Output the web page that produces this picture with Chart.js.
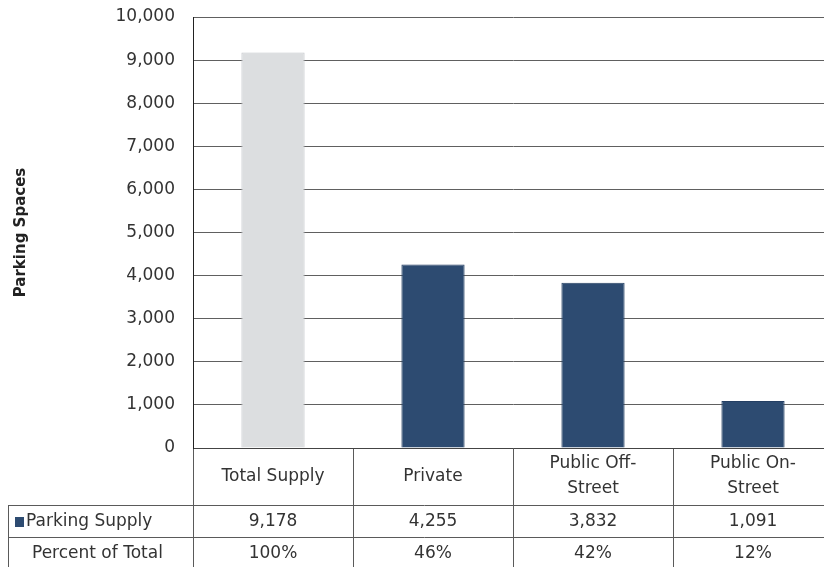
<!DOCTYPE html>
<html>
<head>
<meta charset="utf-8">
<script src="https://cdn.jsdelivr.net/npm/chart.js@4/dist/chart.umd.min.js"></script>
<style>
  html, body { margin: 0; padding: 0; background: #fff; overflow: hidden; }
  #wrap { width: 824px; height: 567px; overflow: hidden; position: relative; }
  canvas { display: block; }
</style>
</head>
<body>
<div id="wrap"><canvas id="c" width="840" height="575"></canvas></div>
<script>
// ---- data ----
const categories = [["Total Supply"], ["Private"], ["Public Off-", "Street"], ["Public On-", "Street"]];
const parkingSupply = [9178, 4255, 3832, 1091];
const percentOfTotal = ["100%", "46%", "42%", "12%"];
const rowLabels = ["Parking Supply", "Percent of Total"];
const yAxisTitle = "Parking Spaces";
const yMin = 0, yMax = 10000, yStep = 1000;

// ---- styles ----
const FONT = "'DejaVu Sans', sans-serif";
const TEXT = "#333333";
const NAVY = "#2d4b71";
const GREY = "#dcdee0";
const barFill = [GREY, NAVY, NAVY, NAVY];
const barEdge = ["#c2c5c9", "#243f63", "#243f63", "#243f63"];
const headerH = 57, rowH = 32, tableLeftOffset = 185;

const tablePlugin = {
  id: 'dataTable',
  afterDraw(chart) {
    const ctx = chart.ctx;
    const a = chart.chartArea;
    const x = chart.scales.x;
    const n = categories.length;
    const colW = (a.right - a.left) / n;
    const tLeft = a.left - tableLeftOffset;
    const hTop = a.bottom, hBot = a.bottom + headerH;
    const r1Bot = hBot + rowH, r2Bot = r1Bot + rowH;
    ctx.save();
    ctx.strokeStyle = "#5a5a5a";
    ctx.lineWidth = 1;
    [hBot, r1Bot, r2Bot].forEach(yy => {
      ctx.beginPath();
      ctx.moveTo(tLeft, Math.round(yy) + 0.5);
      ctx.lineTo(a.right + 10, Math.round(yy) + 0.5);
      ctx.stroke();
    });
    const vx = [tLeft];
    for (let i = 0; i <= n; i++) vx.push(a.left + i * colW);
    vx.forEach(xx => {
      ctx.beginPath();
      ctx.moveTo(Math.round(xx) + 0.5, hBot);
      ctx.lineTo(Math.round(xx) + 0.5, r2Bot);
      ctx.stroke();
    });
    ctx.fillStyle = TEXT;
    ctx.font = "17px " + FONT;
    ctx.textAlign = "center";
    ctx.textBaseline = "middle";
    const lh = 25;
    const hMid = (hTop + hBot) / 2;
    categories.forEach((lab, i) => {
      const cx = x.getPixelForValue(i);
      const lines = Array.isArray(lab) ? lab : [lab];
      const start = hMid - (lines.length - 1) * lh / 2;
      lines.forEach((ln, j) => ctx.fillText(ln, cx, start + j * lh));
    });
    const r1Mid = (hBot + r1Bot) / 2, r2Mid = (r1Bot + r2Bot) / 2;
    parkingSupply.forEach((v, i) => {
      ctx.fillText(v.toLocaleString('en-US'), x.getPixelForValue(i), r1Mid + 1);
    });
    percentOfTotal.forEach((v, i) => {
      ctx.fillText(v, x.getPixelForValue(i), r2Mid + 1);
    });
    ctx.textAlign = "left";
    ctx.fillStyle = NAVY;
    ctx.fillRect(tLeft + 7, r1Mid - 4, 9, 10);
    ctx.fillStyle = TEXT;
    ctx.fillText(rowLabels[0], tLeft + 18, r1Mid + 1);
    ctx.fillText(rowLabels[1], tLeft + 24, r2Mid + 1);
    ctx.restore();
  }
};

new Chart(document.getElementById('c'), {
  type: 'bar',
  data: {
    labels: categories,
    datasets: [{
      label: rowLabels[0],
      data: parkingSupply,
      backgroundColor: barFill,
      borderColor: barEdge,
      borderWidth: 1,
      barPercentage: 0.395,
      categoryPercentage: 1
    }]
  },
  options: {
    responsive: false,
    animation: false,
    devicePixelRatio: 1,
    layout: { padding: { top: 17, right: 7, bottom: 70, left: 0 } },
    plugins: { legend: { display: false }, tooltip: { enabled: false } },
    scales: {
      x: {
        ticks: { display: false },
        grid: { offset: true, drawOnChartArea: false, drawTicks: true, tickLength: headerH, color: "#5a5a5a", lineWidth: 1 },
        border: { display: true, color: "#444", width: 1 },
        afterFit(s) { s.height = headerH; s.paddingTop = 0; s.paddingBottom = 0; }
      },
      y: {
        min: yMin, max: yMax,
        ticks: {
          stepSize: yStep,
          padding: 18,
          color: TEXT,
          font: { family: FONT, size: 17 },
          callback: v => v.toLocaleString('en-US')
        },
        grid: { drawTicks: false, color: "#606060", lineWidth: 1 },
        border: { display: true, color: "#222", width: 1 },
        title: {
          display: true,
          text: yAxisTitle,
          color: "#222",
          font: { family: FONT, size: 15, weight: 'bold' },
          padding: { top: 12, bottom: 0 }
        },
        afterFit(s) { s.width = 193; s.paddingTop = 0; s.paddingBottom = 0; }
      }
    }
  },
  plugins: [tablePlugin]
});
</script>
</body>
</html>
